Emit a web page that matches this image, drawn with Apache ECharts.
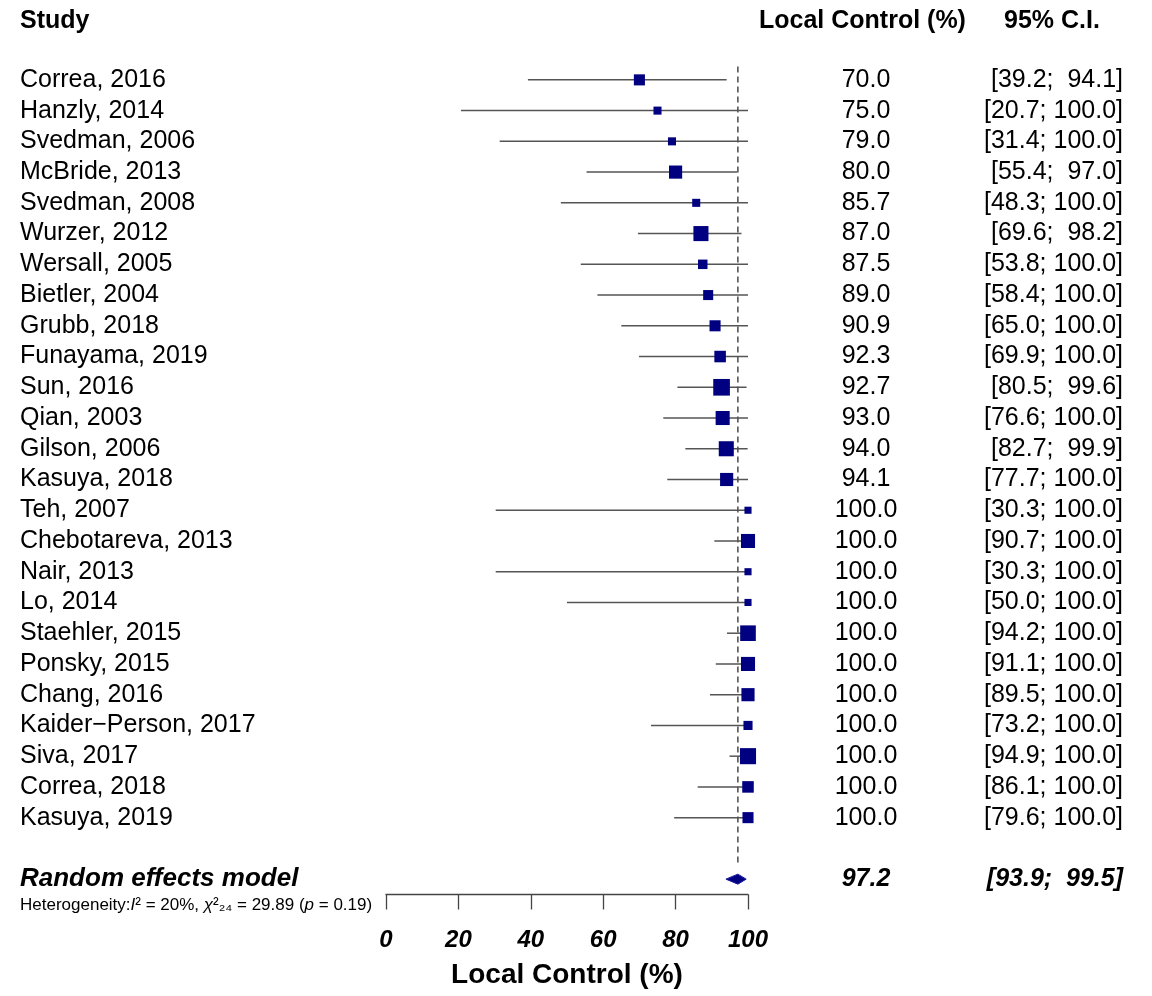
<!DOCTYPE html>
<html>
<head>
<meta charset="utf-8">
<script src="https://cdn.jsdelivr.net/npm/echarts@6/dist/echarts.min.js"></script>
<style>
  html, body { margin: 0; padding: 0; background: #fff; }
  #chartContainer { width: 1152px; height: 996px; }
</style>
</head>
<body>
<div id="chartContainer"></div>
<script>
'use strict';
// forest plot data
let studies = ['Correa, 2016', 'Hanzly, 2014', 'Svedman, 2006', 'McBride, 2013', 'Svedman, 2008',
    'Wurzer, 2012', 'Wersall, 2005', 'Bietler, 2004', 'Grubb, 2018', 'Funayama, 2019',
    'Sun, 2016', 'Qian, 2003', 'Gilson, 2006', 'Kasuya, 2018', 'Teh, 2007',
    'Chebotareva, 2013', 'Nair, 2013', 'Lo, 2014', 'Staehler, 2015', 'Ponsky, 2015',
    'Chang, 2016', 'Kaider\u2212Person, 2017', 'Siva, 2017', 'Correa, 2018', 'Kasuya, 2019'];
let estimates = [70.0, 75.0, 79.0, 80.0, 85.7, 87.0, 87.5, 89.0, 90.9, 92.3, 92.7, 93.0, 94.0, 94.1,
    100.0, 100.0, 100.0, 100.0, 100.0, 100.0, 100.0, 100.0, 100.0, 100.0, 100.0];
let lower = [39.2, 20.7, 31.4, 55.4, 48.3, 69.6, 53.8, 58.4, 65.0, 69.9, 80.5, 76.6, 82.7, 77.7,
    30.3, 90.7, 30.3, 50.0, 94.2, 91.1, 89.5, 73.2, 94.9, 86.1, 79.6];
let upper = [94.1, 100.0, 100.0, 97.0, 100.0, 98.2, 100.0, 100.0, 100.0, 100.0, 99.6, 100.0, 99.9, 100.0,
    100.0, 100.0, 100.0, 100.0, 100.0, 100.0, 100.0, 100.0, 100.0, 100.0, 100.0];
// study weights (%)
let weights = [3.4, 1.8, 1.8, 4.8, 1.8, 6.3, 2.5, 2.8, 3.4, 3.7, 7.7, 5.5, 6.3, 4.8,
    1.4, 5.5, 1.4, 1.4, 6.8, 5.5, 4.8, 2.3, 7.2, 3.7, 3.4];
let summaryLabel = 'Random effects model';
let summary = [93.9, 97.2, 99.5]; // lower, estimate, upper
let xTicks = [0, 20, 40, 60, 80, 100];

let initChart = (function() {
    let chartContainer = document.getElementById('chartContainer');
    let chart = echarts.init(chartContainer);
    let font = 'Liberation Sans';

    let n = studies.length;
    let rows = studies.concat(['', summaryLabel]);
    let summaryRow = n + 1;

    // R's meta pads the upper bound so the brackets line up
    let fmt = function(v) {
        let s = v.toFixed(1);
        return v < 100 ? ' ' + s : s;
    };
    let ciText = function(i) {
        if (i < n) return '[' + lower[i].toFixed(1) + '; ' + fmt(upper[i]) + ']';
        if (i === summaryRow) return '{s|[' + summary[0].toFixed(1) + '; ' + fmt(summary[2]) + ']}';
        return '';
    };
    let estText = function(i) {
        if (i < n) return estimates[i].toFixed(1);
        if (i === summaryRow) return '{s|' + summary[1].toFixed(1) + '}';
        return '';
    };
    let boldItalic = { fontFamily: font, fontSize: 25, fontWeight: 'bold', fontStyle: 'italic', color: '#000' };

    let hiddenAxis = {
        type: 'category',
        data: rows,
        inverse: true,
        axisLine: { show: false },
        axisTick: { show: false },
        splitLine: { show: false }
    };

    let option = {
        backgroundColor: '#fff',
        animation: false,
        grid: {
            left: 386,
            width: 362,
            top: 64.5,
            height: 830,
            outerBoundsMode: 'none'
        },
        graphic: [{
            type: 'text', left: 20, top: 9,
            style: { text: 'Study', fontFamily: font, fontSize: 25, fontWeight: 'bold', fill: '#000' }
        }, {
            type: 'text', left: 759, top: 9,
            style: { text: 'Local Control (%)', fontFamily: font, fontSize: 25, fontWeight: 'bold', fill: '#000' }
        }, {
            type: 'text', left: 1004, top: 9,
            style: { text: '95% C.I.', fontFamily: font, fontSize: 25, fontWeight: 'bold', fill: '#000' }
        }, {
            type: 'text', left: 20, top: 897,
            style: {
                text: '{n|Heterogeneity:}{i|I}{n|\u00b2 = 20%, }{i|\u03c7}{n|\u00b2\u2082\u2084 = 29.89 (}{i|p}{n| = 0.19)}',
                rich: {
                    n: { fontFamily: font, fontSize: 17, fill: '#000' },
                    i: { fontFamily: font, fontSize: 17, fontStyle: 'italic', fill: '#000' }
                }
            }
        }],
        xAxis: {
            type: 'value',
            min: 0,
            max: 100,
            interval: 20,
            name: 'Local Control (%)',
            nameLocation: 'middle',
            nameGap: 67,
            nameTextStyle: { fontFamily: font, fontSize: 28, fontWeight: 'bold', color: '#000' },
            axisLine: { show: true, onZero: false, lineStyle: { color: '#444', width: 1.3 } },
            axisTick: { show: true, length: 15, lineStyle: { color: '#444', width: 1.3 } },
            axisLabel: Object.assign({ margin: 34, formatter: function(v) {
                return xTicks.indexOf(v) >= 0 ? String(v) : '';
            } }, boldItalic, { fontSize: 24 }),
            splitLine: { show: false }
        },
        yAxis: [Object.assign({}, hiddenAxis, {
            position: 'left',
            axisLabel: {
                interval: 0,
                align: 'left',
                margin: 366,
                fontFamily: font,
                fontSize: 25,
                color: '#000',
                formatter: function(v, i) {
                    return i === summaryRow ? '{s|' + v + '}' : v;
                },
                rich: { s: { fontFamily: font, fontSize: 26, fontWeight: 'bold', fontStyle: 'italic', color: '#000' } }
            }
        }), Object.assign({}, hiddenAxis, {
            position: 'right',
            axisLabel: {
                interval: 0,
                align: 'center',
                margin: 118,
                fontFamily: font,
                fontSize: 25,
                color: '#000',
                formatter: function(v, i) { return estText(i); },
                rich: { s: boldItalic }
            }
        }), Object.assign({}, hiddenAxis, {
            position: 'right',
            axisLabel: {
                interval: 0,
                align: 'right',
                margin: 375,
                fontFamily: font,
                fontSize: 25,
                color: '#000',
                formatter: function(v, i) { return ciText(i); },
                rich: { s: boldItalic }
            }
        })],
        series: [{
            // dashed line at the pooled estimate
            type: 'custom',
            data: [[summary[1], 0]],
            encode: { x: 0, y: 1 },
            z: 1,
            renderItem: function(params, api) {
                let x = api.coord([api.value(0), 0])[0];
                let band = api.size([0, 1])[1];
                let yEnd = api.coord([0, summaryRow - 1])[1] + band / 2;
                return {
                    type: 'line',
                    shape: { x1: x, y1: params.coordSys.y + 2, x2: x, y2: yEnd },
                    style: { stroke: '#555', lineWidth: 1.6, lineDash: [6, 4] }
                };
            }
        }, {
            // confidence intervals
            type: 'custom',
            data: lower.map(function(lo, i) { return [lo, upper[i], i]; }),
            encode: { x: [0, 1], y: 2 },
            z: 2,
            renderItem: function(params, api) {
                let a = api.coord([api.value(0), api.value(2)]);
                let b = api.coord([api.value(1), api.value(2)]);
                return {
                    type: 'line',
                    shape: { x1: a[0], y1: a[1], x2: b[0], y2: b[1] },
                    style: { stroke: '#555', lineWidth: 1.5 }
                };
            }
        }, {
            type: 'scatter',
            data: estimates.map(function(v, i) { return [v, i]; }),
            symbol: 'rect',
            symbolSize: function(val, p) { return 6 * Math.sqrt(weights[p.dataIndex]); },
            clip: false,
            z: 3,
            itemStyle: { color: '#000080', opacity: 1 }
        }, {
            // pooled estimate diamond
            type: 'custom',
            data: [[summary[0], summary[1], summary[2], summaryRow]],
            encode: { x: [0, 1, 2], y: 3 },
            z: 3,
            renderItem: function(params, api) {
                let row = api.value(3);
                let l = api.coord([api.value(0), row]);
                let m = api.coord([api.value(1), row]);
                let r = api.coord([api.value(2), row]);
                return {
                    type: 'polygon',
                    shape: { points: [[l[0], l[1]], [m[0], m[1] - 5], [r[0], r[1]], [m[0], m[1] + 5]] },
                    style: { fill: '#000080', stroke: '#1a1aa0', lineWidth: 1 }
                };
            }
        }]
    };

    chart.setOption(option);
})();
</script>
</body>
</html>
